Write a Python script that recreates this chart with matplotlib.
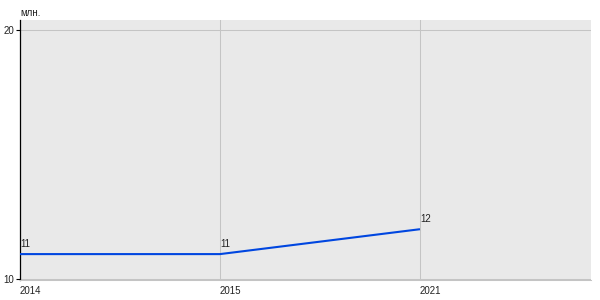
import matplotlib
matplotlib.use("Agg")
import matplotlib.pyplot as plt

years = ["2014", "2015", "2021"]
values = [11, 11, 12]
y_ticks = [10, 20]
unit_label = "млн."

plt.rcParams['font.family'] = ['Liberation Sans', 'DejaVu Sans']

fig = plt.figure(figsize=(6, 3), dpi=100)
W, H = 600, 300
left, right, top, bottom = 20, 591, 20, 280
ax = fig.add_axes([left / W, 1 - bottom / H, (right - left) / W, (bottom - top) / H])
ax.set_facecolor("#e9e9e9")

x = list(range(len(years)))
ax.plot(x, values, color="#0046e0", lw=1.5, solid_capstyle="butt", zorder=3)
for xi, v in zip(x, values):
    ax.annotate(str(v), (xi, v), xytext=(0, 4), textcoords="offset points",
                ha="left", va="bottom", fontsize=7, color="#222222")

ax.set_xlim(0, (right - left) / 200)
ax.set_ylim(10 - 1 / 24.9, 20 + 10 / 24.9)
ax.set_xticks(x)
ax.set_xticklabels(years)
ax.set_yticks(y_ticks)
ax.tick_params(axis="x", length=0, labelsize=7, pad=4, colors="#222222")
ax.tick_params(axis="y", length=3, width=0.8, color="black", labelsize=7, pad=1, colors="#222222")
for lab in ax.get_xticklabels():
    lab.set_ha("left")
ax.grid(True, axis="both", color="#c4c4c4", lw=0.75)
ax.set_axisbelow(True)
for s in ["top", "right"]:
    ax.spines[s].set_visible(False)
ax.spines["left"].set_color("black")
ax.spines["left"].set_linewidth(0.9)
ax.spines["bottom"].set_color("#c4c4c4")
ax.spines["bottom"].set_linewidth(0.75)
fig.text(20 / W, 1 - 12.5 / H, unit_label, fontsize=7, ha="left", va="center", color="#222222")

fig.savefig("out.png", dpi=100)
